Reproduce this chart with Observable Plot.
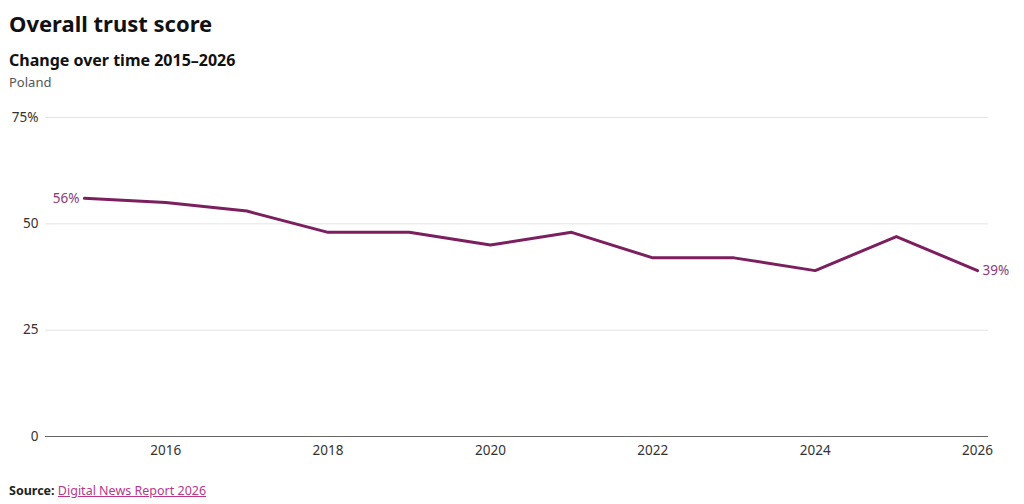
<!DOCTYPE html>
<html>
<head>
<meta charset="utf-8">
<script src="https://cdn.jsdelivr.net/npm/d3@7"></script>
<script src="https://cdn.jsdelivr.net/npm/@observablehq/plot@0.6"></script>
<style>
  html, body { margin: 0; padding: 0; background: #fff; font-family: "Noto Sans", "Open Sans", sans-serif; color: #111; }
  #wrap { width: 1024px; height: 504px; position: relative; overflow: hidden; }
  h1 { position: absolute; left: 9px; top: 7px; margin: 0; font-size: 22px; font-weight: 700; line-height: 32px; }
  h2 { position: absolute; left: 9px; top: 49px; margin: 0; font-size: 16px; font-weight: 700; line-height: 22px; }
  .sub { position: absolute; left: 9px; top: 73px; font-size: 13px; color: #555; line-height: 18px; }
  #chart { position: absolute; left: 0; top: 100px; }
  .src { position: absolute; left: 9px; top: 482px; font-size: 12.5px; line-height: 18px; }
  .src b { color: #222; }
  .src a { color: #b8378a; text-decoration: underline; }
</style>
</head>
<body>
<div id="wrap">
  <h1>Overall trust score</h1>
  <h2>Change over time 2015–2026</h2>
  <div class="sub">Poland</div>
  <div id="chart"></div>
  <div class="src"><b>Source:</b> <a href="#">Digital News Report 2026</a></div>
</div>
<script>
const years = [2015, 2016, 2017, 2018, 2019, 2020, 2021, 2022, 2023, 2024, 2025, 2026];
const trust = [56, 55, 53, 48, 48, 45, 48, 42, 42, 39, 47, 39];
const yTicks = [0, 25, 50, 75];
const xTicks = [2016, 2018, 2020, 2022, 2024, 2026];

const data = years.map((y, i) => ({year: y, value: trust[i]}));
const first = data[0], last = data[data.length - 1];
const purple = "#7b1f5f";

const chart = Plot.plot({
  width: 1024,
  height: 370,
  marginLeft: 45,
  marginRight: 36,
  marginTop: 17,
  marginBottom: 34,
  style: { fontFamily: "'Noto Sans', 'Open Sans', sans-serif", fontSize: "13.5px", color: "#333", background: "transparent" },
  x: { domain: [2014.52, 2026.135], ticks: xTicks, tickFormat: d => String(d) },
  y: { domain: [0, 75], ticks: yTicks },
  marks: [
    Plot.gridY(yTicks.filter(d => d > 0), { stroke: "#e4e4e4", strokeOpacity: 1 }),
    Plot.ruleY([0], { stroke: "#666", strokeWidth: 1 }),
    Plot.axisY({ ticks: yTicks, tickSize: 0, tickPadding: 7, label: null,
      tickFormat: d => d === 75 ? d + "%" : String(d), fill: "#333" }),
    Plot.axisX({ ticks: xTicks, tickSize: 0, tickPadding: 9, label: null, tickFormat: d => String(d), fill: "#333" }),
    Plot.line(data, { x: "year", y: "value", stroke: purple, strokeWidth: 3, curve: "linear" }),
    Plot.text([first], { x: "year", y: "value", text: d => d.value + "%", textAnchor: "end", dx: -5, fill: "#8c3a78", fontSize: 13.5 }),
    Plot.text([last], { x: "year", y: "value", text: d => d.value + "%", textAnchor: "start", dx: 5, fill: "#8c3a78", fontSize: 13.5 })
  ]
});
document.getElementById("chart").appendChild(chart);
</script>
</body>
</html>
